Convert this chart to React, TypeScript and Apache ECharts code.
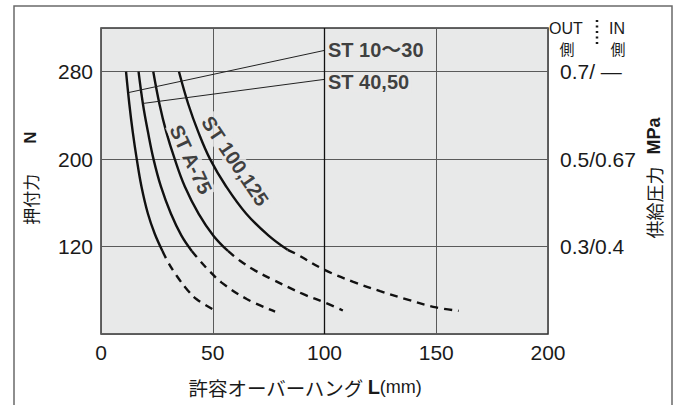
import React, { useEffect, useRef } from "react";
import * as echarts from "echarts";

const FONT = "'Liberation Sans', 'Noto Sans CJK JP', sans-serif";
const JP = "'Noto Sans CJK JP', 'Liberation Sans', sans-serif";

// axes
const xTicks = [0, 50, 100, 150, 200];
const yTicks = [120, 200, 280];
const rightTickLabels = ["0.3/0.4", "0.5/0.67", "0.7/ —"];

// curves [L (mm), force (N)]
const st1030Solid = [[11.2, 280], [12.7, 250], [14.2, 225], [16.0, 200], [18.1, 175], [21.0, 150], [24.0, 132], [27.5, 116]];
const st1030Dash = [[27.5, 116], [30.1, 105.4], [33.9, 93.2], [38.4, 81], [42.8, 71.8], [50, 62.7]];

const st4050Solid = [[16.8, 280], [18.8, 250], [21.0, 225], [23.5, 200], [26.8, 175], [31.3, 150], [36.0, 130], [40.6, 116]];
const st4050Dash = [[40.6, 116], [44.3, 107], [48.8, 97], [54, 87], [65.2, 72], [77.9, 60.5]];

const stA75Solid = [[23.4, 280], [26.2, 250], [29.2, 225], [33.0, 200], [37.5, 175], [43.7, 150], [50.3, 130], [56.8, 116]];
const stA75Dash = [[56.8, 116], [62.2, 107], [69, 98], [76.4, 90.2], [90.6, 76.4], [100, 69], [108.2, 61.5]];

const st100Solid = [[34.9, 280], [39.1, 250], [43.5, 225], [48.8, 200], [56, 175], [65, 150], [75, 130], [83.5, 117]];
const st100Dash = [[83.5, 117], [87.6, 113], [100, 98.7], [112.9, 87.7], [124.9, 79.2], [137.6, 71.2], [150, 64.3], [160, 61.2]];

// annotations
const st1030Pointer = [[100, 299.5], [12.5, 261]];
const st4050Pointer = [[100, 273], [18.9, 251]];
const curveLabels = [
  { text: "ST 10～30", at: [100, 299.5], rotate: 0, position: "right" },
  { text: "ST 40,50", at: [100, 273], rotate: 0, position: "right" },
  { text: "ST A-75", at: [40.2, 199.8], rotate: -65, position: "inside" },
  { text: "ST 100,125", at: [60, 198.3], rotate: -56, position: "inside" },
];

const PLOT_BG = "#e8e9e9";

function curve(data: number[][], dashed: boolean) {
  return {
    type: "line",
    data,
    showSymbol: false,
    smooth: 0.4,
    silent: true,
    z: 3,
    lineStyle: { color: "#111", width: 2.4, type: dashed ? [8, 6] : "solid" },
  };
}

function pointer(data: number[][]) {
  return {
    type: "line",
    data,
    showSymbol: false,
    silent: true,
    z: 3,
    lineStyle: { color: "#222", width: 1 },
  };
}

export default function App() {
  const ref = useRef<HTMLDivElement>(null);
  useEffect(() => {
    if (!ref.current) return;
    const chart = echarts.init(ref.current, null, { renderer: "svg" });
    const option: any = {
      animation: false,
      backgroundColor: "#ffffff",
      grid: {
        left: 101,
        right: 130,
        top: 28,
        bottom: 71,
        show: true,
        backgroundColor: PLOT_BG,
        borderColor: "#333",
        borderWidth: 1.5,
      },
      xAxis: {
        type: "value",
        min: xTicks[0],
        max: xTicks[xTicks.length - 1],
        interval: 50,
        axisLine: { show: false },
        axisTick: { show: false },
        axisLabel: { fontSize: 21, color: "#1a1a1a", fontFamily: FONT, margin: 8 },
        splitLine: { show: true, lineStyle: { color: "#5a5a5a", width: 1 } },
      },
      yAxis: [
        {
          type: "value",
          min: 40,
          max: 320,
          interval: 80,
          position: "left",
          axisLine: { show: false },
          axisTick: { show: false },
          axisLabel: {
            fontSize: 21,
            color: "#1a1a1a",
            fontFamily: FONT,
            margin: 8,
            formatter: (v: number) => (yTicks.includes(v) ? String(v) : ""),
          },
          splitLine: { show: true, lineStyle: { color: "#5a5a5a", width: 1 } },
        },
        {
          type: "value",
          min: 40,
          max: 320,
          interval: 80,
          position: "right",
          axisLine: { show: false },
          axisTick: { show: false },
          axisLabel: {
            fontSize: 21,
            color: "#1a1a1a",
            fontFamily: FONT,
            margin: 12,
            formatter: (v: number) => {
              const i = yTicks.indexOf(v);
              return i >= 0 ? rightTickLabels[i] : "";
            },
          },
          splitLine: { show: false },
        },
      ],
      series: [
        {
          ...curve(st1030Solid, false),
          markLine: {
            silent: true,
            symbol: "none",
            label: { show: false },
            lineStyle: { color: "#111", width: 1.3, type: "solid" },
            data: [{ xAxis: 100 }],
          },
        },
        curve(st1030Dash, true),
        curve(st4050Solid, false),
        curve(st4050Dash, true),
        curve(stA75Solid, false),
        curve(stA75Dash, true),
        curve(st100Solid, false),
        curve(st100Dash, true),
        pointer(st1030Pointer),
        pointer(st4050Pointer),
        {
          type: "scatter",
          silent: true,
          z: 5,
          symbolSize: 1,
          itemStyle: { color: "rgba(0,0,0,0)" },
          data: curveLabels.map((c, i) => ({
            value: c.at,
            label: {
              show: true,
              formatter: c.text,
              position: c.position,
              rotate: c.rotate,
              distance: 1,
              offset: i === 1 ? [0, 3] : [0, 0],
              fontSize: 20,
              fontWeight: "bold",
              fontFamily: FONT,
              color: "#111",
              backgroundColor: PLOT_BG,
              padding: [0, 2],
            },
          })),
        },
      ],
      graphic: [
        {
          type: "rect",
          silent: true,
          z: -10,
          shape: { x: 14, y: 6, width: 658, height: 600 },
          style: { fill: "none", stroke: "#6a6a6a", lineWidth: 1.5 },
        },
        {
          type: "text",
          x: 30,
          y: 178,
          rotation: Math.PI / 2,
          style: {
            text: "{a|押付力}{s| }{b|N}",
            align: "center",
            verticalAlign: "middle",
            fill: "#1a1a1a",
            rich: {
              a: { fontSize: 17, fontFamily: JP, fill: "#1a1a1a" },
              s: { width: 30, fontSize: 17 },
              b: { fontSize: 17, fontWeight: "bold", fontFamily: FONT, fill: "#1a1a1a" },
            },
          },
        },
        {
          type: "text",
          x: 654,
          y: 178,
          rotation: Math.PI / 2,
          style: {
            text: "{a|供給圧力}{s| }{b|MPa}",
            align: "center",
            verticalAlign: "middle",
            fill: "#1a1a1a",
            rich: {
              a: { fontSize: 18, fontFamily: JP, fill: "#1a1a1a" },
              s: { width: 12, fontSize: 18 },
              b: { fontSize: 18, fontWeight: "bold", fontFamily: FONT, fill: "#1a1a1a" },
            },
          },
        },
        {
          type: "text",
          x: 305,
          y: 387,
          style: {
            text: "{a|許容オーバーハング}{s| }{b|L}{c|(mm)}",
            align: "center",
            verticalAlign: "middle",
            fill: "#1a1a1a",
            rich: {
              a: { fontSize: 19.5, fontFamily: JP, fill: "#1a1a1a" },
              s: { width: 4, fontSize: 19 },
              b: { fontSize: 20, fontWeight: "bold", fontFamily: FONT, fill: "#1a1a1a" },
              c: { fontSize: 18, fontFamily: FONT, fill: "#1a1a1a" },
            },
          },
        },
        {
          type: "text",
          x: 566,
          y: 28,
          style: { text: "OUT", fontSize: 16, fontFamily: FONT, fill: "#1a1a1a", align: "center", verticalAlign: "middle" },
        },
        {
          type: "text",
          x: 617,
          y: 28,
          style: { text: "IN", fontSize: 16, fontFamily: FONT, fill: "#1a1a1a", align: "center", verticalAlign: "middle" },
        },
        {
          type: "text",
          x: 567,
          y: 48,
          style: { text: "側", fontSize: 15, fontFamily: JP, fill: "#1a1a1a", align: "center", verticalAlign: "middle" },
        },
        {
          type: "text",
          x: 618,
          y: 48,
          style: { text: "側", fontSize: 15, fontFamily: JP, fill: "#1a1a1a", align: "center", verticalAlign: "middle" },
        },
        {
          type: "line",
          shape: { x1: 597, y1: 20, x2: 597, y2: 46 },
          style: { stroke: "#1a1a1a", lineWidth: 2.5, lineDash: [2, 3.5] },
        },
      ],
    };
    chart.setOption(option);
    return () => chart.dispose();
  }, []);
  return (
    <div
      ref={ref}
      style={{ position: "absolute", left: 0, top: 0, width: 678, height: 405 }}
    />
  );
}
